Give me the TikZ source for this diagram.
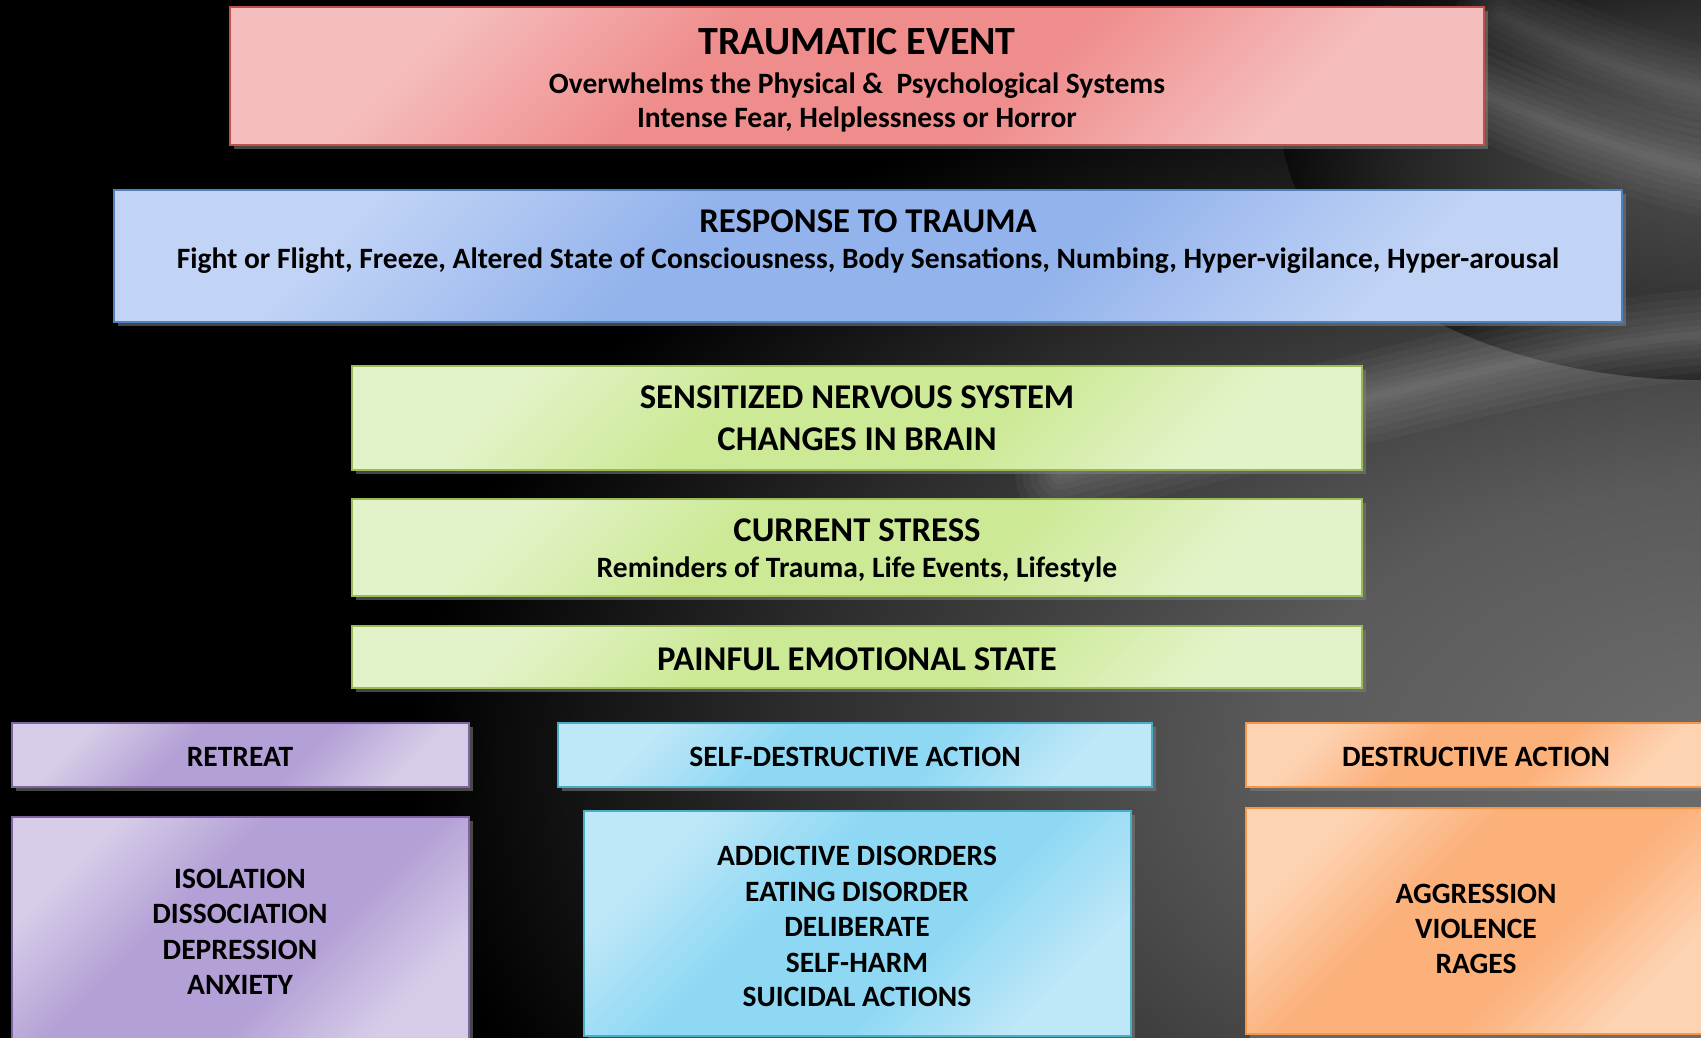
\documentclass[tikz,border=0pt]{standalone}
\usepackage{fontspec}
\setmainfont{Carlito}
\usetikzlibrary{shadows}

% box colours: border, light tint, middle tint
\definecolor{redB}{HTML}{C0504D}\definecolor{redL}{HTML}{F5BEBE}\definecolor{redM}{HTML}{EF8D8C}
\definecolor{bluB}{HTML}{4F81BD}\definecolor{bluL}{HTML}{C2D4F6}\definecolor{bluM}{HTML}{93B3EC}
\definecolor{grnB}{HTML}{9BBB59}\definecolor{grnL}{HTML}{E3F3C9}\definecolor{grnM}{HTML}{CCE995}
\definecolor{purB}{HTML}{8064A2}\definecolor{purL}{HTML}{D6CCE7}\definecolor{purM}{HTML}{B3A0D6}
\definecolor{cyaB}{HTML}{4BACC6}\definecolor{cyaL}{HTML}{BEE7F7}\definecolor{cyaM}{HTML}{8ED8F4}
\definecolor{orgB}{HTML}{F79646}\definecolor{orgL}{HTML}{FDD3B2}\definecolor{orgM}{HTML}{FCB07A}
\definecolor{glowA}{HTML}{6E6E6E}\definecolor{glowB}{HTML}{5A5A5A}\definecolor{glowC}{HTML}{2C2C2C}

\newcommand{\boxshading}[3]{% name, light, middle
  \pgfdeclarehorizontalshading{#1}{100bp}{color(0bp)=(#2); color(26bp)=(#2); color(41bp)=(#3); color(59bp)=(#3); color(74bp)=(#2); color(100bp)=(#2)}}
\boxshading{redfill}{redL}{redM}
\boxshading{blufill}{bluL}{bluM}
\boxshading{grnfill}{grnL}{grnM}
\boxshading{purfill}{purL}{purM}
\boxshading{cyafill}{cyaL}{cyaM}
\boxshading{orgfill}{orgL}{orgM}
\pgfdeclareradialshading{bgglow}{\pgfpoint{0bp}{0bp}}{color(0bp)=(glowA); color(9bp)=(glowB); color(18bp)=(glowC); color(25bp)=(black); color(50bp)=(black)}

\tikzset{
  box/.style={rectangle, inner sep=0pt, line width=1.5pt, shading angle=-45,
    drop shadow={opacity=0.55, shadow xshift=4pt, shadow yshift=-4pt}},
  redbox/.style={box, draw=redB, shading=redfill},
  blubox/.style={box, draw=bluB, shading=blufill},
  grnbox/.style={box, draw=grnB, shading=grnfill},
  purbox/.style={box, draw=purB, shading=purfill},
  cyabox/.style={box, draw=cyaB, shading=cyafill},
  orgbox/.style={box, draw=orgB, shading=orgfill},
  head/.style={anchor=base, inner sep=0pt, font=\fontsize{34.7}{41}\selectfont\bfseries},
  bigHead/.style={anchor=base, inner sep=0pt, font=\fontsize{40}{47}\selectfont\bfseries},
  sub/.style={anchor=base, inner sep=0pt, font=\fontsize{29.5}{35}\selectfont\bfseries},
  lbl/.style={anchor=base, inner sep=0pt, font=\fontsize{29.5}{35}\selectfont\bfseries},
  streak/.style={line cap=round, draw=white}
}

\newcommand{\boxat}[6]{% style, name, x0, y0, x1, y1
  \node[#1, minimum width={(#5)-(#3)}, minimum height={(#6)-(#4)}] (#2) at ({((#3)+(#5))/2},{((#4)+(#6))/2}) {};}

\begin{document}
\begin{tikzpicture}[x=1pt,y=-1pt]
  % page and dark backdrop with a soft grey sheen on the right
  \useasboundingbox (0,0) rectangle (1701,1038);
  \begin{scope}
    \clip (0,0) rectangle (1701,1038);
    \fill[black] (0,0) rectangle (1701,1038);
    \shade[shading=bgglow] (1760,760) ellipse [x radius=1350, y radius=780];
    \shade[shading=bgglow, opacity=0.5] (1701,120) ellipse [x radius=420, y radius=260];
    % light folds of the backdrop
    \foreach \w in {90,75,60,45,30,18,8}{
      \draw[streak, line width=\w pt, opacity=0.035] (1701,335) .. controls (1560,345) and (1380,395) .. (1060,475);
      \draw[streak, line width=\w pt, opacity=0.03] (1390,50) .. controls (1480,95) and (1580,140) .. (1701,170);
      \draw[streak, line width=\w pt, opacity=0.025] (1500,15) .. controls (1560,45) and (1630,75) .. (1701,90);
    }
  \end{scope}

  % boxes
  \boxat{redbox}{event}{230}{7}{1484}{145}
  \boxat{blubox}{response}{114}{190}{1622}{322}
  \boxat{grnbox}{nervous}{352}{366}{1362}{470}
  \boxat{grnbox}{stress}{352}{499}{1362}{596}
  \boxat{grnbox}{painful}{352}{626}{1362}{688}
  \boxat{purbox}{retreat}{12}{723}{469}{787}
  \boxat{purbox}{retreatlist}{12}{817}{469}{1050}
  \boxat{cyabox}{selfdes}{558}{723}{1152}{787}
  \boxat{cyabox}{selfdeslist}{584}{811}{1131}{1036}
  \boxat{orgbox}{destr}{1246}{723}{1712}{787}
  \boxat{orgbox}{destrlist}{1246}{808}{1712}{1034}

  % texts
  \node[bigHead] (t1) at (857,55) {TRAUMATIC EVENT};
  \node[sub] (t2) at (857,94) {Overwhelms the Physical \&\ \ Psychological Systems};
  \node[sub] (t3) at (857,128) {Intense Fear, Helplessness or Horror};

  \node[head] (t4) at (868,232) {RESPONSE TO TRAUMA};
  \node[sub] (t5) at (868,268) {Fight or Flight, Freeze, Altered State of Consciousness, Body Sensations, Numbing, Hyper-vigilance, Hyper-arousal};

  \node[head] (t6) at (857,408) {SENSITIZED NERVOUS SYSTEM};
  \node[head] (t7) at (857,450) {CHANGES IN BRAIN};

  \node[head] (t8) at (857,541) {CURRENT STRESS};
  \node[sub] (t9) at (857,577) {Reminders of Trauma, Life Events, Lifestyle};

  \node[head] (t10) at (857,670) {PAINFUL EMOTIONAL STATE};

  \node[lbl] (t11) at (240,766) {RETREAT};
  \node[lbl] (t12) at (855,766) {SELF-DESTRUCTIVE ACTION};
  \node[lbl] (t13) at (1476,766) {DESTRUCTIVE ACTION};

  \node[lbl] (r1) at (240,888) {ISOLATION};
  \node[lbl] (r2) at (240,923) {DISSOCIATION};
  \node[lbl] (r3) at (240,959) {DEPRESSION};
  \node[lbl] (r4) at (240,994) {ANXIETY};

  \node[lbl] (s1) at (857,865) {ADDICTIVE DISORDERS};
  \node[lbl] (s2) at (857,901) {EATING DISORDER};
  \node[lbl] (s3) at (857,936) {DELIBERATE};
  \node[lbl] (s4) at (857,972) {SELF-HARM};
  \node[lbl] (s5) at (857,1006) {SUICIDAL ACTIONS};

  \node[lbl] (d1) at (1476,903) {AGGRESSION};
  \node[lbl] (d2) at (1476,938) {VIOLENCE};
  \node[lbl] (d3) at (1476,973) {RAGES};
\end{tikzpicture}
\end{document}
